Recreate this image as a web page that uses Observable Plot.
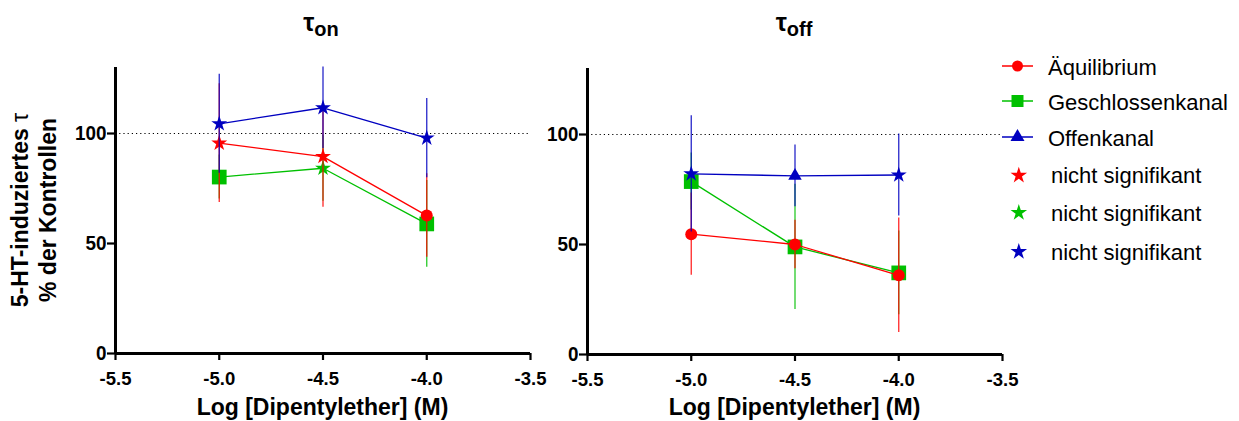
<!DOCTYPE html>
<html><head><meta charset="utf-8">
<script src="https://cdn.jsdelivr.net/npm/d3@7"></script>
<script src="https://cdn.jsdelivr.net/npm/@observablehq/plot@0.6"></script>
<style>
body{margin:0;background:#fff;}
#wrap{position:relative;width:1239px;height:421px;overflow:hidden;font-family:"Liberation Sans",Arial,sans-serif;color:#000;}
.abs{position:absolute;white-space:nowrap;line-height:1;}
</style></head><body><div id="wrap"></div>
<script>
// ---- data ----
const xs = [-5.0, -4.5, -4.0];
// tau_on panel
const onEq = [95.6, 89.5, 62.7], onEqErr = [27, 23, 19], onEqNS = [true, true, false];
const onGe = [80.2, 84.2, 58.9], onGeErr = [10, 15, 19.7], onGeNS = [false, true, false];
const onOf = [104.4, 111.7, 97.9], onOfErr = [22.5, 18.5, 18], onOfNS = [true, true, true];
// tau_off panel
const offEq = [54.7, 50.0, 36.0], offEqErr = [18.7, 11, 26], offEqNS = [false, false, false];
const offGe = [78.6, 48.9, 37.1], offGeErr = [13, 28.5, 19], offGeNS = [false, false, false];
const offOf = [82.1, 81.2, 81.6], offOfErr = [26.4, 14, 18.6], offOfNS = [true, false, true];

const seriesNames = ["Äquilibrium", "Geschlossenkanal", "Offenkanal"];
const seriesColors = ["#ff0000", "#00c000", "#0000c0"];
const seriesSymbols = ["circle", "square", "triangle"];
const nsLabel = "nicht signifikant";
const xTicks = [-5.5, -5.0, -4.5, -4.0, -3.5];
const yTicks = [0, 50, 100];
const panelSubs = ["on", "off"];
const xLabel = "Log [Dipentylether] (M)";
const yLabel1 = "5-HT-induziertes ";
const yLabel2 = "% der Kontrollen";
const refLine = 100;

function rows(vals, errs, ns, s) {
  return xs.map((x, i) => ({x, y: vals[i], lo: vals[i] - errs[i], hi: vals[i] + errs[i],
    sym: ns[i] ? "star" : seriesSymbols[s], series: s}));
}
const onData = [...rows(onEq, onEqErr, onEqNS, 0), ...rows(onGe, onGeErr, onGeNS, 1), ...rows(onOf, onOfErr, onOfNS, 2)];
const offData = [...rows(offEq, offEqErr, offEqNS, 0), ...rows(offGe, offGeErr, offGeNS, 1), ...rows(offOf, offOfErr, offOfNS, 2)];

const R = {circle: 6, square: 8.3, triangle: 5, star: 5};
const FONT = '"Liberation Sans", Arial, sans-serif';
const wrap = document.getElementById("wrap");

function panel(data, left, mt, mb) {
  const marks = [
    Plot.ruleY([refLine], {x1: -5.5, x2: -3.5, stroke: "#000", strokeWidth: 1, strokeDasharray: "1.2,3"})
  ];
  for (const s of [1, 0, 2]) {
    const d = data.filter(r => r.series === s);
    marks.push(Plot.ruleX(d, {x: "x", y1: "lo", y2: "hi", stroke: seriesColors[s], strokeWidth: 1.3, strokeOpacity: 0.85}));
    marks.push(Plot.line(d, {x: "x", y: "y", stroke: seriesColors[s], strokeWidth: 1.3}));
    for (const sym of ["circle", "square", "triangle", "star"]) {
      const dd = d.filter(r => r.sym === sym);
      if (dd.length) marks.push(Plot.dot(dd, {x: "x", y: "y", symbol: sym, r: R[sym], fill: seriesColors[s], stroke: "none"}));
    }
  }
  marks.push(Plot.axisX({ticks: xTicks, tickFormat: d => d.toFixed(1), tickSize: 7, tickPadding: 11, strokeWidth: 2.2, label: null,
    fontSize: 18.5, fontWeight: "bold", fontFamily: FONT}));
  marks.push(Plot.axisY({ticks: yTicks, tickFormat: d => String(d), tickSize: 8, tickPadding: 1, strokeWidth: 2.2, label: null,
    fontSize: 21, fontWeight: "bold", fontFamily: FONT}));
  marks.push(Plot.ruleX([-5.5], {y1: 0, y2: 130, stroke: "#000", strokeWidth: 3}));
  marks.push(Plot.ruleY([0], {x1: -5.5, x2: -3.5, stroke: "#000", strokeWidth: 3}));
  const p = Plot.plot({
    width: 560, height: 421,
    marginLeft: 115, marginRight: 30, marginTop: mt, marginBottom: mb,
    x: {domain: [-5.5, -3.5]},
    y: {domain: [0, 130]},
    style: {fontFamily: FONT, fontSize: "18.5px", fontWeight: "bold", background: "none", overflow: "visible"},
    marks
  });
  p.style.position = "absolute";
  p.style.left = left + "px";
  p.style.top = "0px";
  p.style.maxWidth = "none";
  wrap.appendChild(p);
  // condensed y tick labels, as in the reference
  d3.select(p).selectAll('g[aria-label="y-axis tick label"] text').each(function () {
    this.style.fontSize = "21px";
    const w = this.getComputedTextLength();
    if (w > 0) {
      this.setAttribute("textLength", (w * 0.9).toFixed(1));
      this.setAttribute("lengthAdjust", "spacingAndGlyphs");
    }
  });
}
panel(onData, 0, 67, 68);
panel(offData, 472, 68, 67);

function addDiv(html, css) {
  const d = document.createElement("div");
  d.className = "abs";
  d.innerHTML = html;
  Object.assign(d.style, css);
  wrap.appendChild(d);
  return d;
}
// titles
[321, 794].forEach((cx, i) => {
  addDiv('τ<span style="font-size:20px;position:relative;top:5px">' + panelSubs[i] + '</span>',
    {left: cx + "px", top: "10px", transform: "translateX(-50%)", fontSize: "25px", fontWeight: "bold"});
  addDiv(xLabel, {left: [322.5, 794.5][i] + "px", top: "396px", transform: "translateX(-50%)", fontSize: "23px", fontWeight: "bold"});
});
// y label
addDiv(yLabel1 + '<span style="font-weight:normal">τ</span>', {left: "20px", top: "210px", transform: "translate(-50%,-50%) rotate(-90deg)", fontSize: "23px", fontWeight: "bold"});
addDiv(yLabel2, {left: "48px", top: "210px", transform: "translate(-50%,-50%) rotate(-90deg)", fontSize: "23px", fontWeight: "bold"});

// legend
const lg = d3.select(wrap).append("svg").attr("width", 259).attr("height", 260)
  .style("position", "absolute").style("left", "980px").style("top", "0px").style("overflow", "visible");
const symMap = {circle: d3.symbolCircle, square: d3.symbolSquare, triangle: d3.symbolTriangle, star: d3.symbolStar};
const legSize = {circle: Math.PI * 5.5 * 5.5, square: 144, triangle: 85, star: 85};
const serY = [66, 101, 137];
const nsY = [175.4, 212.7, 251.7];
seriesNames.forEach((name, i) => {
  const g = lg.append("g");
  g.append("line").attr("x1", 22).attr("x2", 53).attr("y1", serY[i]).attr("y2", serY[i]).attr("stroke", seriesColors[i]).attr("stroke-width", 1.5);
  g.append("path").attr("d", d3.symbol(symMap[seriesSymbols[i]], legSize[seriesSymbols[i]])()).attr("transform", `translate(37.5,${serY[i]})`).attr("fill", seriesColors[i]);
  g.append("text").attr("x", 68).attr("y", serY[i] + 1 + 7.9).text(name).attr("font-size", 22).attr("font-family", FONT);
});
seriesColors.forEach((c, i) => {
  const g = lg.append("g");
  g.append("path").attr("d", d3.symbol(d3.symbolStar, legSize.star)()).attr("transform", `translate(38.8,${nsY[i]})`).attr("fill", c);
  g.append("text").attr("x", 71).attr("y", nsY[i] + 7.9).text(nsLabel).attr("font-size", 22).attr("font-family", FONT);
});
</script></body></html>
